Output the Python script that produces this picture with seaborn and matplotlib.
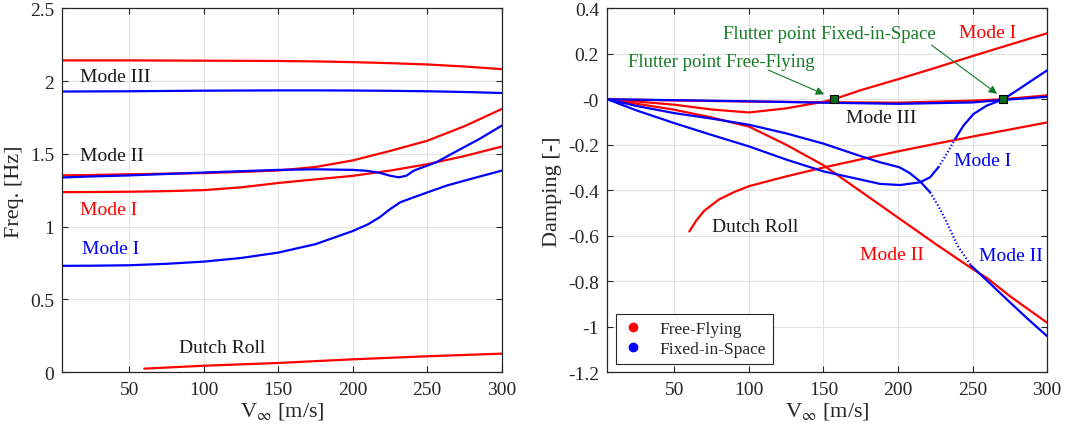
import numpy as np
import matplotlib
matplotlib.use("Agg")
import matplotlib.pyplot as plt
import seaborn as sns
from matplotlib.lines import Line2D
from matplotlib.ticker import FuncFormatter

# Style (set font after seaborn theme)
sns.set_theme(style="white")
plt.rcParams['font.family'] = ['Liberation Serif', 'DejaVu Serif']
plt.rcParams['mathtext.fontset'] = 'stix'
plt.rcParams['axes.unicode_minus'] = False

RED = '#ff0000'
BLUE = '#0000ff'
GREEN = '#137a26'
DARK = '#262626'

# ---------------- Frequency data [Hz] ----------------
v_f = [5, 25, 50, 75, 100, 125, 150, 175, 200, 225, 250, 275, 300]
ff_mode3_freq = [2.142, 2.142, 2.142, 2.141, 2.140, 2.139, 2.138, 2.135, 2.130, 2.123, 2.114, 2.100, 2.082]
fs_mode3_freq = [1.928, 1.929, 1.930, 1.932, 1.934, 1.935, 1.936, 1.936, 1.935, 1.933, 1.930, 1.925, 1.918]
ff_mode2_freq = [1.352, 1.355, 1.360, 1.364, 1.368, 1.376, 1.386, 1.410, 1.455, 1.520, 1.590, 1.690, 1.808]
ff_mode1_freq = [1.237, 1.238, 1.240, 1.244, 1.251, 1.270, 1.300, 1.325, 1.349, 1.385, 1.429, 1.485, 1.550]

v_fs2 = [5, 25, 50, 75, 100, 125, 150, 175, 200, 210, 218, 225, 231, 236, 241, 256, 270, 285, 300]
fs_mode2_freq = [1.338, 1.345, 1.352, 1.362, 1.372, 1.381, 1.390, 1.394, 1.390, 1.383, 1.370, 1.350,
                 1.339, 1.350, 1.385, 1.442, 1.520, 1.602, 1.694]

v_fs1 = [5, 25, 50, 75, 100, 125, 150, 175, 200, 210, 218, 225, 232, 241, 250, 263, 280, 300]
fs_mode1_freq = [0.731, 0.732, 0.735, 0.745, 0.760, 0.785, 0.822, 0.880, 0.970, 1.015, 1.064, 1.120,
                 1.168, 1.202, 1.235, 1.282, 1.330, 1.385]

v_dr = [60, 100, 150, 200, 250, 300]
ff_dutch_freq = [0.025, 0.045, 0.064, 0.089, 0.110, 0.128]

# ---------------- Damping data [-] ----------------
v_d1 = [5, 25, 50, 75, 100, 125, 150, 157, 175, 200, 225, 250, 275, 300]
ff_mode1_damp = [0.0, -0.010, -0.024, -0.045, -0.058, -0.040, -0.011, 0.0, 0.040, 0.088, 0.138, 0.190, 0.240, 0.290]

v_d3 = [5, 50, 100, 150, 200, 250, 270, 300]
ff_mode3_damp = [0.0, -0.005, -0.010, -0.013, -0.015, -0.006, 0.0, 0.017]
fs_mode3_damp = [0.0, -0.004, -0.009, -0.015, -0.020, -0.014, -0.003, 0.011]

v_d2 = [5, 25, 50, 75, 100, 125, 150, 175, 200, 225, 250, 260, 275, 300]
ff_mode2_damp = [0.0, -0.020, -0.046, -0.080, -0.120, -0.200, -0.290, -0.405, -0.520, -0.635,
                 -0.746, -0.787, -0.865, -0.982]

v_ddr = [60, 65, 70, 80, 90, 100, 125, 150, 175, 200, 225, 250, 275, 300]
ff_dutch_damp = [-0.581, -0.530, -0.490, -0.440, -0.408, -0.382, -0.339, -0.300, -0.264, -0.229,
                 -0.196, -0.164, -0.133, -0.102]

v_fsd2 = [5, 25, 50, 75, 100, 125, 150, 175, 188, 201, 208, 215, 221.5, 227, 232.7, 240, 249,
          258.6, 275, 287, 300]
fs_mode2_damp = [0.0, -0.030, -0.061, -0.085, -0.112, -0.150, -0.195, -0.250, -0.277, -0.299,
                 -0.325, -0.362, -0.409, -0.468, -0.541, -0.644, -0.731, -0.790, -0.892, -0.965, -1.041]

v_fsd1 = [5, 25, 50, 75, 100, 125, 150, 175, 188, 201.4, 214.8, 221.5, 227.1, 232.7, 238.3, 243.9,
          250.6, 259.5, 270.7, 281.9, 290.8, 300]
fs_mode1_damp = [0.0, -0.050, -0.105, -0.157, -0.207, -0.265, -0.317, -0.353, -0.372, -0.377, -0.365,
                 -0.343, -0.299, -0.240, -0.175, -0.116, -0.065, -0.028, 0.0, 0.048, 0.087, 0.127]

flutter_v = [157, 270.7]
flutter_damp = [0.0, 0.0]


def curve(ax, x, y, color, ls='-'):
    sns.lineplot(x=x, y=y, ax=ax, color=color, lw=1.6, sort=False,
                 estimator=None, linestyle=ls, legend=False)


def curve_dotted(ax, x, y, color, lo, hi):
    # solid outside [lo, hi], dotted inside (sparse sampling in the original)
    x = np.asarray(x)
    y = np.asarray(y)
    m1 = x <= lo
    m2 = (x >= lo) & (x <= hi)
    m3 = x >= hi
    curve(ax, x[m1], y[m1], color)
    curve(ax, x[m2], y[m2], color, ls=(0, (0.6, 1.0)))
    curve(ax, x[m3], y[m3], color)


def style_axes(ax):
    ax.set_xlim(5, 300)
    ax.set_xticks([50, 100, 150, 200, 250, 300])
    ax.grid(True, color='#e3e3e3', lw=0.8)
    ax.set_axisbelow(True)
    for s in ax.spines.values():
        s.set_visible(True)
        s.set_color(DARK)
        s.set_linewidth(0.9)
    ax.tick_params(direction='in', length=4, width=0.8, colors=DARK, labelsize=14,
                   top=True, right=True, bottom=True, left=True, pad=6)
    ax.yaxis.set_major_formatter(FuncFormatter(lambda v, _: f'{round(v, 2):g}'))
    ax.set_xlabel(r'V$_{\infty}$ [m/s]', fontsize=16, color=DARK, labelpad=2)


fig = plt.figure(figsize=(10.67, 4.39), dpi=100)
ax1 = fig.add_axes([0.0584, 0.1497, 0.4118, 0.8292])
ax2 = fig.add_axes([0.5692, 0.1497, 0.4121, 0.8292])

# ---------------- Left: frequency ----------------
curve(ax1, v_f, ff_mode3_freq, RED)
curve(ax1, v_f, fs_mode3_freq, BLUE)
curve(ax1, v_f, ff_mode2_freq, RED)
curve(ax1, v_f, ff_mode1_freq, RED)
curve(ax1, v_fs2, fs_mode2_freq, BLUE)
curve(ax1, v_fs1, fs_mode1_freq, BLUE)
curve(ax1, v_dr, ff_dutch_freq, RED)

style_axes(ax1)
ax1.set_ylim(0, 2.5)
ax1.set_yticks([0, 0.5, 1, 1.5, 2, 2.5])
ax1.set_ylabel('Freq. [Hz]', fontsize=16, color=DARK)

ax1.text(17, 2.03, 'Mode III', fontsize=14, color='#1a1a1a', va='center')
ax1.text(17, 1.49, 'Mode II', fontsize=14, color='#1a1a1a', va='center')
ax1.text(17, 1.12, 'Mode I', fontsize=14, color=RED, va='center')
ax1.text(18, 0.85, 'Mode I', fontsize=14, color=BLUE, va='center')
ax1.text(83.5, 0.167, 'Dutch Roll', fontsize=14, color='#1a1a1a', va='center')

# ---------------- Right: damping ----------------
curve(ax2, v_d3, ff_mode3_damp, RED)
curve(ax2, v_d1, ff_mode1_damp, RED)
curve(ax2, v_d2, ff_mode2_damp, RED)
curve(ax2, v_ddr, ff_dutch_damp, RED)
curve_dotted(ax2, v_fsd2, fs_mode2_damp, BLUE, 221.5, 249)
curve_dotted(ax2, v_fsd1, fs_mode1_damp, BLUE, 227.1, 238.3)
curve(ax2, v_d3, fs_mode3_damp, BLUE)

sns.scatterplot(x=flutter_v, y=flutter_damp, ax=ax2, marker='s', s=30, color='#0b6b1c',
                edgecolor='black', linewidth=0.8, zorder=5, legend=False)

style_axes(ax2)
ax2.set_ylim(-1.2, 0.4)
ax2.set_yticks(np.round(np.arange(-1.2, 0.41, 0.2), 1))
ax2.set_ylabel('Damping [-]', fontsize=16, color=DARK)

ax2.annotate('Flutter point Free-Flying', xy=(150.5, 0.022), xytext=(19, 0.166),
             fontsize=13.5, color=GREEN, va='center', ha='left',
             arrowprops=dict(arrowstyle='-|>', color=GREEN, lw=0.8, mutation_scale=12,
                             shrinkA=0, shrinkB=0, patchA=None,
                             relpos=(0.75, 0.0)))
ax2.annotate('Flutter point Fixed-in-Space', xy=(266.5, 0.024), xytext=(82.5, 0.29),
             fontsize=13.5, color=GREEN, va='center', ha='left',
             arrowprops=dict(arrowstyle='-|>', color=GREEN, lw=0.8, mutation_scale=12,
                             shrinkA=0, shrinkB=0, relpos=(0.96, 0.0)))

ax2.text(260, 0.295, 'Mode I', fontsize=14, color=RED, ha='center', va='center')
ax2.text(189, -0.078, 'Mode III', fontsize=14, color='#1a1a1a', ha='center', va='center')
ax2.text(257, -0.268, 'Mode I', fontsize=14, color=BLUE, ha='center', va='center')
ax2.text(104, -0.559, 'Dutch Roll', fontsize=14, color='#1a1a1a', ha='center', va='center')
ax2.text(196, -0.683, 'Mode II', fontsize=14, color=RED, ha='center', va='center')
ax2.text(276, -0.688, 'Mode II', fontsize=14, color=BLUE, ha='center', va='center')

handles = [Line2D([], [], ls='none', marker='o', color=RED, markersize=6, label='Free-Flying'),
           Line2D([], [], ls='none', marker='o', color=BLUE, markersize=6, label='Fixed-in-Space')]
leg = ax2.legend(handles=handles, loc='lower left', bbox_to_anchor=(0.019, 0.024),
                 borderaxespad=0, fontsize=12.5, frameon=True, fancybox=False,
                 edgecolor=DARK, framealpha=1, handlelength=1.2, handletextpad=0.9,
                 labelspacing=0.2, borderpad=0.4)
leg.get_frame().set_linewidth(0.8)

fig.savefig('out.png', dpi=100)
